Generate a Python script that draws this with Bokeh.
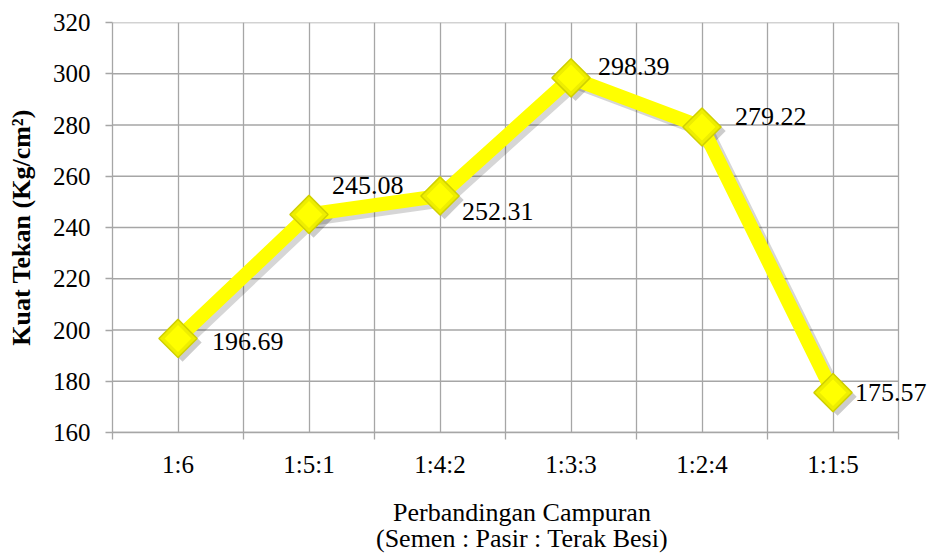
import math
from bokeh.plotting import figure
from bokeh.models import ColumnDataSource, FixedTicker, Range1d, LabelSet
from bokeh.transform import dodge
from bokeh.embed import file_html
from bokeh.resources import INLINE

categories = ["1:6", "1:5:1", "1:4:2", "1:3:3", "1:2:4", "1:1:5"]
kuat_tekan = [196.69, 245.08, 252.31, 298.39, 279.22, 175.57]
y_ticks = [160, 180, 200, 220, 240, 260, 280, 300, 320]

# label offsets in screen pixels (x right, y up)
label_dx = [34, 23, 22, 27, 33, 22]
label_dy = [-3, 29, -16, 11, 10, 0]

n_cat = len(categories)
xs = [i + 0.5 for i in range(n_cat)]
src = ColumnDataSource(dict(
    x=xs, y=kuat_tekan,
    lbl=["%.2f" % v for v in kuat_tekan],
    dx=label_dx, dy=label_dy,
))
grid_src = ColumnDataSource(dict(
    x0=[0] * len(y_ticks), x1=[n_cat] * len(y_ticks), y=y_ticks,
))

FONT = "'Liberation Serif', 'Times New Roman', serif"
GRID = "#a6a6a6"

W, H = 931, 555
LEFT, TOP, BOTTOM = 112, 22, 122
PLOT_W = 786  # pixel width of the category area
x_end = n_cat * (W - LEFT) / PLOT_W

p = figure(width=W, height=H, output_backend="svg", toolbar_location=None,
           x_range=Range1d(0, x_end), y_range=Range1d(160, 320),
           min_border_left=LEFT, min_border_right=0, min_border_top=TOP,
           min_border_bottom=BOTTOM)
p.outline_line_color = None
p.background_fill_color = "white"
p.border_fill_color = "white"

# grids
p.xgrid.ticker = FixedTicker(ticks=[i * 0.5 for i in range(2 * n_cat + 1)])
p.xgrid.grid_line_color = GRID
p.xgrid.grid_line_width = 1.3
p.ygrid.grid_line_color = None
p.segment(x0="x0", x1="x1", y0="y", y1="y", source=grid_src,
          line_color=GRID, line_width=1.3)

# x axis
xa = p.xaxis[0]
xa.bounds = (0, n_cat)
xa.ticker = FixedTicker(ticks=xs, minor_ticks=list(range(n_cat + 1)))
xa.major_label_overrides = {x: c for x, c in zip(xs, categories)}
xa.major_tick_out = 0
xa.major_tick_in = 0
xa.minor_tick_out = 7
xa.minor_tick_in = 0
xa.minor_tick_line_color = GRID
xa.minor_tick_line_width = 1.3
xa.axis_line_color = GRID
xa.axis_line_width = 1.3
xa.major_label_standoff = 11
xa.major_label_text_font = FONT
xa.major_label_text_font_size = "25px"
xa.major_label_text_color = "black"
xa.axis_label = "Perbandingan Campuran\n(Semen : Pasir : Terak Besi)"
xa.axis_label_text_font = FONT
xa.axis_label_text_font_size = "26px"
xa.axis_label_text_font_style = "normal"
xa.axis_label_text_color = "black"
xa.axis_label_text_line_height = 0.9
xa.axis_label_standoff = 17

# y axis
ya = p.yaxis[0]
ya.ticker = FixedTicker(ticks=y_ticks)
ya.minor_tick_line_color = None
ya.major_tick_out = 7
ya.major_tick_in = 0
ya.major_tick_line_color = GRID
ya.major_tick_line_width = 1.3
ya.axis_line_color = GRID
ya.axis_line_width = 1.3
ya.major_label_standoff = 15
ya.major_label_text_font = FONT
ya.major_label_text_font_size = "25px"
ya.major_label_text_color = "black"
ya.axis_label = "Kuat Tekan (Kg/cm²)"
ya.axis_label_text_font = FONT
ya.axis_label_text_font_size = "26px"
ya.axis_label_text_font_style = "bold"
ya.axis_label_text_color = "black"
ya.axis_label_standoff = 14

# shadow
p.line(x=dodge("x", 0.035, range=p.x_range), y=dodge("y", -1.6, range=p.y_range),
       source=src, line_color="#000000", line_alpha=0.16, line_width=14,
       line_join="miter")
p.scatter(x=dodge("x", 0.035, range=p.x_range), y=dodge("y", -1.6, range=p.y_range),
          source=src, marker="square", size=27, angle=math.pi / 4,
          fill_color="#000000", fill_alpha=0.2, line_color=None)

# main series
p.line(x="x", y="y", source=src, line_color="#ffff00", line_width=14,
       line_join="miter")
p.scatter(x="x", y="y", source=src, marker="square", size=27, angle=math.pi / 4,
          fill_color="#eeee00", line_color="#d0d000", line_width=1.5)
p.scatter(x="x", y="y", source=src, marker="square", size=19, angle=math.pi / 4,
          fill_color="#ffff00", line_color=None)

labels = LabelSet(x="x", y="y", text="lbl", source=src, x_offset="dx",
                  y_offset="dy", text_font=FONT, text_font_size="26px",
                  text_color="black", text_align="left", text_baseline="middle")
p.add_layout(labels)

open("out.html", "w").write(file_html(p, INLINE))
